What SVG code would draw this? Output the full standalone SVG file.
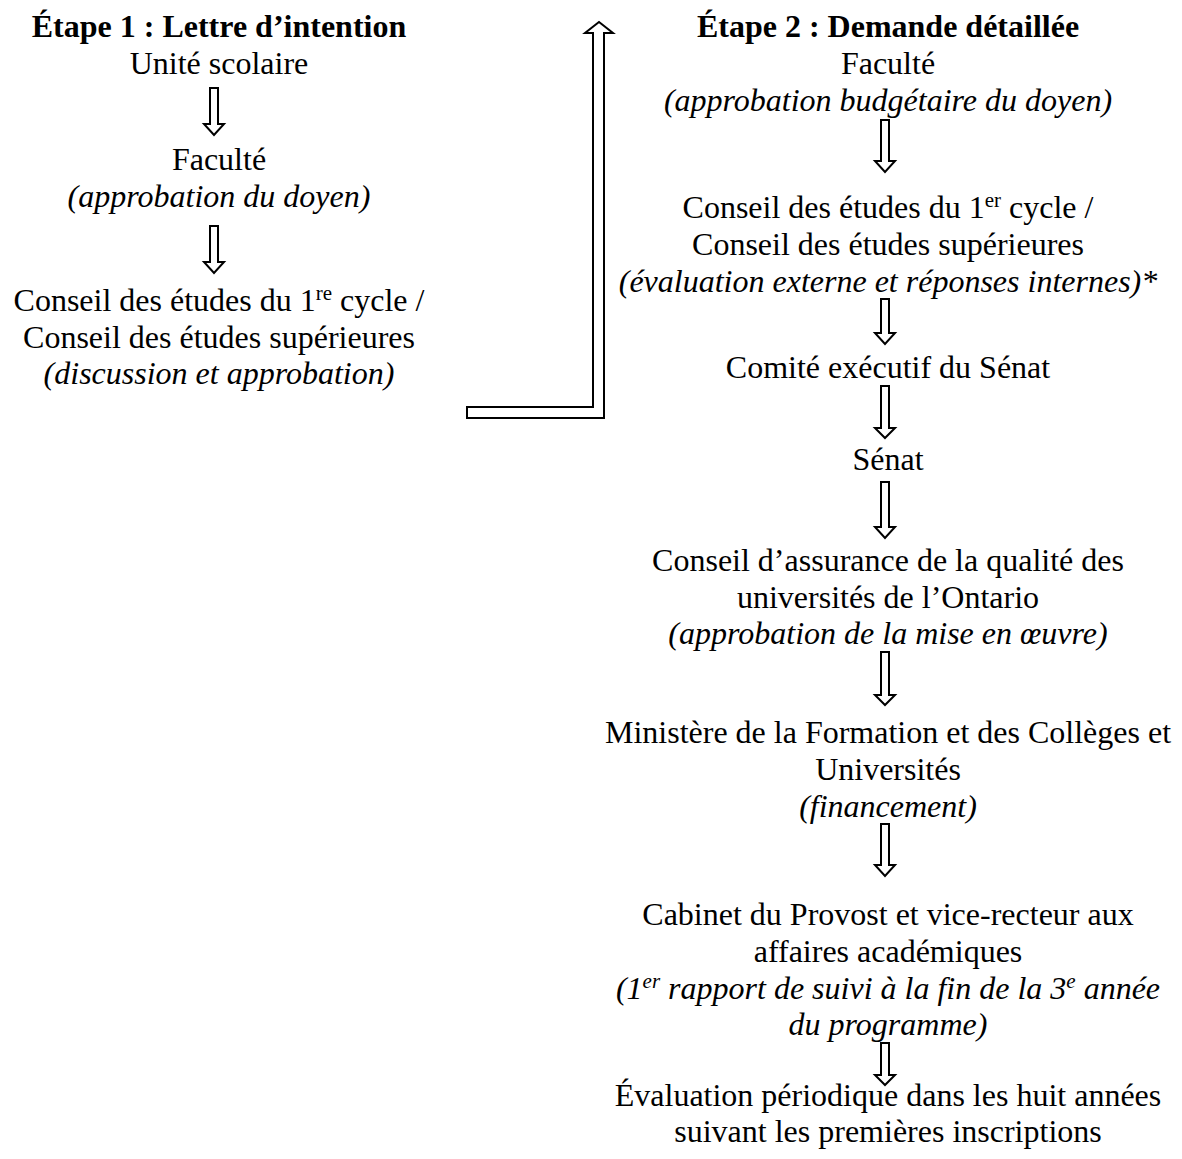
<svg xmlns="http://www.w3.org/2000/svg" width="1182" height="1159" viewBox="0 0 1182 1159">
<defs>
<style>
text{font-family:"Liberation Serif","Times New Roman",serif;font-size:32px;fill:#000;text-anchor:middle}
.b{font-weight:bold}
.i{font-style:italic}
.sup{font-size:21px}
.arr{fill:#fff;stroke:#000;stroke-width:2;stroke-linejoin:miter}
</style>
</defs>
<rect width="1182" height="1159" fill="#fff"/>
<g id="left">
<g id="n-etape1"><text class="b" x="219" y="37">Étape 1 : Lettre d’intention</text></g>
<g id="n-unite"><text x="219" y="74">Unité scolaire</text></g>
<g id="n-faculte1"><text x="219" y="170">Faculté</text><text class="i" x="219" y="207">(approbation du doyen)</text></g>
<g id="n-conseil1"><text x="219" y="311">Conseil des études du 1<tspan class="sup" dy="-11">re</tspan><tspan dy="11"> cycle /</tspan></text><text x="219" y="348">Conseil des études supérieures</text><text class="i" x="219" y="384">(discussion et approbation)</text></g>
</g>
<g id="right">
<g id="n-etape2"><text class="b" x="888" y="37">Étape 2 : Demande détaillée</text></g>
<g id="n-faculte2"><text x="888" y="74">Faculté</text><text class="i" x="888" y="111">(approbation budgétaire du doyen)</text></g>
<g id="n-conseil2"><text x="888" y="218">Conseil des études du 1<tspan class="sup" dy="-11">er</tspan><tspan dy="11"> cycle /</tspan></text><text x="888" y="255">Conseil des études supérieures</text><text class="i" x="888" y="292">(évaluation externe et réponses internes)*</text></g>
<g id="n-comite"><text x="888" y="378">Comité exécutif du Sénat</text></g>
<g id="n-senat"><text x="888" y="470">Sénat</text></g>
<g id="n-cqaq"><text x="888" y="571">Conseil d’assurance de la qualité des</text><text x="888" y="608">universités de l’Ontario</text><text class="i" x="888" y="644">(approbation de la mise en œuvre)</text></g>
<g id="n-ministere"><text x="888" y="743">Ministère de la Formation et des Collèges et</text><text x="888" y="780">Universités</text><text class="i" x="888" y="817">(financement)</text></g>
<g id="n-cabinet"><text x="888" y="925">Cabinet du Provost et vice-recteur aux</text><text x="888" y="962">affaires académiques</text><text class="i" x="888" y="999">(1<tspan class="sup" dy="-11">er</tspan><tspan dy="11"> rapport de suivi à la fin de la 3</tspan><tspan class="sup" dy="-11">e</tspan><tspan dy="11"> année</tspan></text><text class="i" x="888" y="1035">du programme)</text></g>
<g id="n-evaluation"><text x="888" y="1106">Évaluation périodique dans les huit années</text><text x="888" y="1142">suivant les premières inscriptions</text></g>
</g>
<g id="connectors">
<path class="arr" d="M210 88 H218 V124 H224 L214 135 L204 124 H210 Z"/>
<path class="arr" d="M210 226 H218 V262 H224 L214 273 L204 262 H210 Z"/>
<path class="arr" d="M467 407 H593 V33 H585 L599 22 L613 33 H604 V418 H467 Z"/>
<path class="arr" d="M881 120 H889 V161 H895 L885 172 L875 161 H881 Z"/>
<path class="arr" d="M881 299 H889 V333 H895 L885 344 L875 333 H881 Z"/>
<path class="arr" d="M881 386 H889 V428 H895 L885 438 L875 428 H881 Z"/>
<path class="arr" d="M881 482 H889 V527 H895 L885 538 L875 527 H881 Z"/>
<path class="arr" d="M881 652 H889 V695 H895 L885 705 L875 695 H881 Z"/>
<path class="arr" d="M881 824 H889 V865 H895 L885 876 L875 865 H881 Z"/>
<path class="arr" d="M881 1043 H889 V1075 H895 L885 1085 L875 1075 H881 Z"/>
</g>
</svg>
